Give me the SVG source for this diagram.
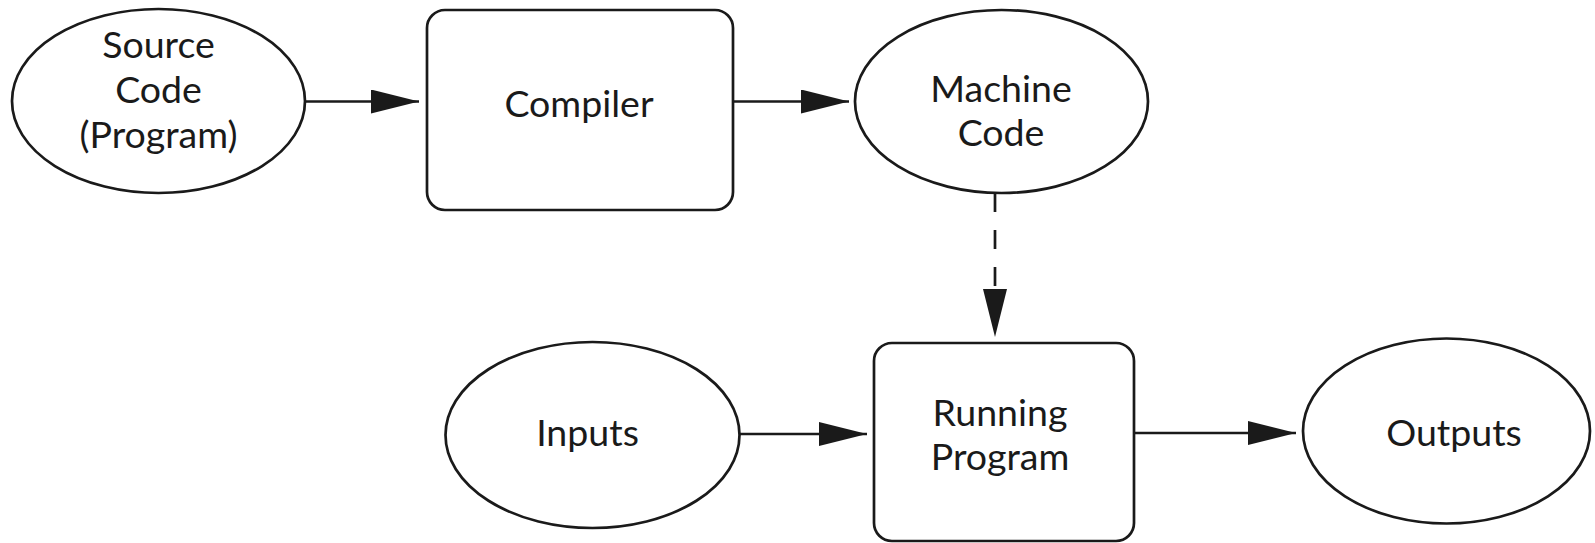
<svg xmlns="http://www.w3.org/2000/svg" width="1595" height="543" viewBox="0 0 1595 543">
<defs>
<style>
.shape{fill:#fff;stroke:#1a1a1a;stroke-width:2.7}
.lbl{font-family:Lato,"Open Sans","Liberation Sans",sans-serif;font-size:37.5px;fill:#1a1a1a;text-anchor:middle}
.conn{stroke:#1a1a1a;stroke-width:2.7;fill:none}
.dash{stroke-dasharray:19 18}
</style>
<marker id="arr" markerUnits="userSpaceOnUse" markerWidth="48" markerHeight="24" refX="48" refY="12" orient="auto" viewBox="0 0 48 24">
<path d="M0,0 L48,12 L0,24 z" fill="#1a1a1a"/>
</marker>
</defs>
<rect width="1595" height="543" fill="#fff"/>
<g id="connectors">
<line class="conn" x1="305" y1="101.5" x2="419" y2="101.5" marker-end="url(#arr)"/>
<line class="conn" x1="733" y1="101.5" x2="849" y2="101.5" marker-end="url(#arr)"/>
<line class="conn dash" x1="995" y1="193" x2="995" y2="337" marker-end="url(#arr)"/>
<line class="conn" x1="739.5" y1="434" x2="867" y2="434" marker-end="url(#arr)"/>
<line class="conn" x1="1134" y1="433" x2="1296" y2="433" marker-end="url(#arr)"/>
</g>
<g id="source">
<ellipse class="shape" cx="158.5" cy="101" rx="146.5" ry="92"/>
<text class="lbl" x="158.5" y="58">Source</text>
<text class="lbl" x="158.5" y="103">Code</text>
<text class="lbl" x="158.5" y="148">(Program)</text>
</g>
<g id="compiler">
<rect class="shape" x="427" y="10" width="306" height="200" rx="18" ry="18"/>
<text class="lbl" x="579" y="117">Compiler</text>
</g>
<g id="machine">
<ellipse class="shape" cx="1001.5" cy="101.5" rx="146.5" ry="91.5"/>
<text class="lbl" x="1001" y="101.5">Machine</text>
<text class="lbl" x="1001" y="146">Code</text>
</g>
<g id="inputs">
<ellipse class="shape" cx="592.5" cy="435" rx="147" ry="93"/>
<text class="lbl" x="587.5" y="446">Inputs</text>
</g>
<g id="running">
<rect class="shape" x="874" y="343" width="260" height="198" rx="18" ry="18"/>
<text class="lbl" x="1000" y="426">Running</text>
<text class="lbl" x="1000" y="470">Program</text>
</g>
<g id="outputs">
<ellipse class="shape" cx="1446.5" cy="431" rx="143.5" ry="92.5"/>
<text class="lbl" x="1454" y="446">Outputs</text>
</g>
</svg>
